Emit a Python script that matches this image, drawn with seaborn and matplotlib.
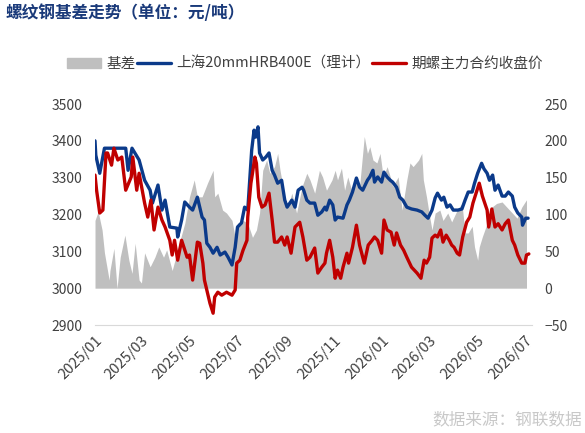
import pandas as pd
import seaborn as sns
import matplotlib
matplotlib.use('Agg')
import matplotlib.pyplot as plt
import matplotlib.dates as mdates
from matplotlib.patches import Patch
from matplotlib.lines import Line2D

# 上海20mmHRB400E（理计）
spot_dates = ['2025-01-01', '2025-01-02', '2025-01-07', '2025-01-13', '2025-02-09', '2025-02-12', '2025-02-17',
              '2025-02-26', '2025-03-05', '2025-03-12', '2025-03-15', '2025-03-22', '2025-03-27', '2025-03-31',
              '2025-04-06', '2025-04-15', '2025-04-16', '2025-04-21', '2025-04-25', '2025-05-01', '2025-05-05',
              '2025-05-11', '2025-05-17', '2025-05-20', '2025-05-23', '2025-05-27', '2025-05-31', '2025-06-05',
              '2025-06-09', '2025-06-15', '2025-06-19', '2025-06-24', '2025-06-28', '2025-07-01', '2025-07-06',
              '2025-07-10', '2025-07-14', '2025-07-19', '2025-07-22', '2025-07-24', '2025-07-27', '2025-07-29',
              '2025-08-02', '2025-08-06', '2025-08-10', '2025-08-14', '2025-08-17', '2025-08-21', '2025-08-26',
              '2025-08-30', '2025-09-02', '2025-09-08', '2025-09-12', '2025-09-16', '2025-09-21', '2025-09-23',
              '2025-09-27', '2025-10-01', '2025-10-07', '2025-10-11', '2025-10-16', '2025-10-20', '2025-10-22',
              '2025-10-26', '2025-10-30', '2025-11-02', '2025-11-05', '2025-11-12', '2025-11-17', '2025-11-20',
              '2025-11-24', '2025-11-29', '2025-12-03', '2025-12-07', '2025-12-13', '2025-12-16', '2025-12-20',
              '2025-12-22', '2025-12-26', '2025-12-31', '2026-01-03', '2026-01-07', '2026-01-11', '2026-01-14',
              '2026-01-19', '2026-01-23', '2026-01-27', '2026-02-01', '2026-02-07', '2026-02-14', '2026-02-20',
              '2026-02-24', '2026-02-28', '2026-03-05', '2026-03-09', '2026-03-12', '2026-03-17', '2026-03-20',
              '2026-03-24', '2026-03-28', '2026-04-01', '2026-04-07', '2026-04-12', '2026-04-16', '2026-04-20',
              '2026-04-25', '2026-04-28', '2026-05-02', '2026-05-07', '2026-05-10', '2026-05-14', '2026-05-17',
              '2026-05-21', '2026-05-24', '2026-05-28', '2026-06-02', '2026-06-06', '2026-06-10', '2026-06-15',
              '2026-06-18', '2026-06-22', '2026-06-27', '2026-06-28', '2026-07-02', '2026-07-05']
spot = [3400, 3361, 3312, 3380, 3380, 3320, 3380,
        3348, 3293, 3266, 3231, 3280, 3212, 3239,
        3166, 3163, 3139, 3185, 3234, 3220, 3212,
        3247, 3193, 3185, 3122, 3111, 3095, 3111,
        3090, 3098, 3084, 3063, 3111, 3166, 3177,
        3220, 3212, 3375, 3429, 3410, 3438, 3367,
        3348, 3356, 3367, 3320, 3307, 3285, 3293,
        3239, 3220, 3239, 3220, 3266, 3274, 3266,
        3239, 3231, 3231, 3198, 3207, 3220, 3212,
        3239, 3226, 3185, 3193, 3190, 3226, 3239,
        3261, 3299, 3274, 3266, 3293, 3302, 3320,
        3288, 3302, 3288, 3315, 3302, 3293, 3288,
        3274, 3247, 3239, 3220, 3215, 3212, 3207,
        3198, 3190, 3212, 3245, 3258, 3239, 3247,
        3220, 3226, 3212, 3212, 3215, 3239, 3261,
        3261, 3285, 3312, 3339, 3324, 3312, 3293,
        3307, 3266, 3280, 3250, 3250, 3261, 3250,
        3220, 3204, 3193, 3171, 3190, 3190]

# 期螺主力合约收盘价
fut_dates = ['2025-01-01', '2025-01-03', '2025-01-07', '2025-01-11', '2025-01-15', '2025-01-17', '2025-01-22',
             '2025-01-25', '2025-01-30', '2025-02-04', '2025-02-09', '2025-02-16', '2025-02-18', '2025-02-23',
             '2025-02-26', '2025-03-05', '2025-03-09', '2025-03-13', '2025-03-17', '2025-03-22', '2025-03-27',
             '2025-03-31', '2025-04-06', '2025-04-09', '2025-04-12', '2025-04-16', '2025-04-21', '2025-04-28',
             '2025-05-01', '2025-05-05', '2025-05-11', '2025-05-14', '2025-05-18', '2025-05-20', '2025-05-23',
             '2025-05-27', '2025-05-31', '2025-06-02', '2025-06-06', '2025-06-11', '2025-06-17', '2025-06-24',
             '2025-06-28', '2025-06-30', '2025-07-04', '2025-07-08', '2025-07-13', '2025-07-14', '2025-07-18',
             '2025-07-20', '2025-07-23', '2025-07-25', '2025-07-28', '2025-08-01', '2025-08-05', '2025-08-10',
             '2025-08-14', '2025-08-17', '2025-08-21', '2025-08-26', '2025-08-30', '2025-09-02', '2025-09-07',
             '2025-09-12', '2025-09-18', '2025-09-22', '2025-09-27', '2025-10-01', '2025-10-07', '2025-10-11',
             '2025-10-16', '2025-10-20', '2025-10-22', '2025-10-26', '2025-10-30', '2025-11-02', '2025-11-05',
             '2025-11-09', '2025-11-12', '2025-11-17', '2025-11-19', '2025-11-24', '2025-11-29', '2025-12-03',
             '2025-12-09', '2025-12-14', '2025-12-19', '2025-12-22', '2025-12-26', '2025-12-31', '2026-01-03',
             '2026-01-07', '2026-01-12', '2026-01-16', '2026-01-19', '2026-01-24', '2026-01-28', '2026-02-01',
             '2026-02-07', '2026-02-14', '2026-02-19', '2026-02-23', '2026-02-26', '2026-03-02', '2026-03-05',
             '2026-03-09', '2026-03-12', '2026-03-16', '2026-03-19', '2026-03-23', '2026-03-27', '2026-03-30',
             '2026-04-02', '2026-04-06', '2026-04-09', '2026-04-13', '2026-04-18', '2026-04-22', '2026-04-26',
             '2026-04-30', '2026-05-04', '2026-05-08', '2026-05-14', '2026-05-16', '2026-05-20', '2026-05-24',
             '2026-05-28', '2026-06-02', '2026-06-06', '2026-06-10', '2026-06-15', '2026-06-18', '2026-06-22',
             '2026-06-27', '2026-07-01', '2026-07-03', '2026-07-06']
fut = [3307, 3266, 3204, 3212, 3367, 3367, 3334,
       3380, 3348, 3356, 3266, 3302, 3356, 3266,
       3312, 3231, 3193, 3239, 3158, 3220, 3185,
       3166, 3130, 3090, 3130, 3076, 3130, 3084,
       3090, 3022, 3125, 3122, 3068, 3022, 2995,
       2959, 2932, 2976, 2989, 2981, 2989, 2981,
       2995, 3068, 3076, 3103, 3130, 3193, 3285,
       3312, 3356, 3339, 3247, 3220, 3226, 3258,
       3185, 3125, 3125, 3139, 3117, 3139, 3095,
       3166, 3179, 3139, 3076, 3084, 3109, 3041,
       3057, 3068, 3095, 3130, 3084, 3027, 3049,
       3027, 3057, 3095, 3068, 3111, 3171, 3117,
       3068, 3117, 3130, 3139, 3130, 3095, 3185,
       3158, 3152, 3117, 3150, 3117, 3103, 3084,
       3057, 3041, 3027, 3076, 3068, 3084, 3136,
       3144, 3139, 3158, 3125, 3144, 3130, 3117,
       3111, 3095, 3090, 3139, 3179, 3193, 3231,
       3258, 3285, 3250, 3212, 3166, 3215, 3166,
       3175, 3158, 3175, 3185, 3130, 3117, 3090,
       3068, 3068, 3090, 3093]

# 基差
basis_dates = ['2025-01-01', '2025-01-05', '2025-01-10', '2025-01-13', '2025-01-19', '2025-01-20', '2025-01-25',
               '2025-01-29', '2025-02-02', '2025-02-08', '2025-02-13', '2025-02-17', '2025-02-21', '2025-02-26',
               '2025-03-01', '2025-03-05', '2025-03-12', '2025-03-18', '2025-03-23', '2025-03-29', '2025-04-02',
               '2025-04-09', '2025-04-15', '2025-04-18', '2025-04-25', '2025-05-01', '2025-05-07', '2025-05-11',
               '2025-05-17', '2025-05-24', '2025-05-31',
               '2025-06-02', '2025-06-06', '2025-06-12', '2025-06-17', '2025-06-24', '2025-06-28', '2025-07-01',
               '2025-07-08', '2025-07-14', '2025-07-20', '2025-07-25', '2025-07-29', '2025-08-02', '2025-08-07',
               '2025-08-11', '2025-08-17', '2025-08-21', '2025-08-24', '2025-08-30', '2025-09-03', '2025-09-08',
               '2025-09-14', '2025-09-21', '2025-09-27', '2025-10-01', '2025-10-07', '2025-10-13', '2025-10-17',
               '2025-10-22', '2025-10-29', '2025-11-02', '2025-11-05', '2025-11-10', '2025-11-14', '2025-11-18',
               '2025-11-23', '2025-11-27', '2025-12-03', '2025-12-09', '2025-12-13', '2025-12-16', '2025-12-20',
               '2025-12-25', '2025-12-29', '2026-01-02', '2026-01-07', '2026-01-11', '2026-01-14', '2026-01-21',
               '2026-01-26', '2026-02-01', '2026-02-05', '2026-02-09', '2026-02-16', '2026-02-20', '2026-02-22',
               '2026-02-26', '2026-03-02', '2026-03-05', '2026-03-09', '2026-03-15', '2026-03-19', '2026-03-25',
               '2026-03-30', '2026-04-06', '2026-04-12', '2026-04-16', '2026-04-20', '2026-04-25', '2026-04-28',
               '2026-05-02', '2026-05-04', '2026-05-08', '2026-05-14', '2026-05-20', '2026-05-26', '2026-06-02',
               '2026-06-08', '2026-06-15', '2026-06-21', '2026-06-27', '2026-07-03']
basis = [92, 104, 79, 48, 11, 24, 54,
         0, 42, 72, 38, 20, 61, 11,
         7, 48, 29, 42, 56, 42, 52,
         24, 48, 61, 88, 124, 147, 124,
         124, 143, 160,
         124, 129, 106, 102, 92, 69, 88,
         92, 88, 69, 79, 102, 160, 174,
         156, 165, 183, 160, 124, 111, 129,
         102, 138, 156, 147, 129, 160, 151,
         133, 147, 160, 147, 163, 133, 151,
         133, 151, 138, 206, 183, 192, 174,
         170, 183, 151, 165, 151, 138, 151,
         106, 147, 170, 165, 174, 183, 147,
         124, 97, 79, 102, 106, 92, 102,
         90, 106, 115, 75, 75, 84, 56,
         38, 56, 70, 88, 110, 115, 117,
         110, 102, 95, 110, 120]

sns.set_style('white')
plt.rcParams['font.family'] = ['Noto Sans CJK SC', 'DejaVu Sans']

fig = plt.figure(figsize=(5.85, 4.33), dpi=100)
ax = fig.add_axes([0.1624, 0.2494, 0.747, 0.5104])
ax2 = ax.twinx()

# 基差面积（右轴），价格线（左轴）
bd = pd.to_datetime(basis_dates)
ax.fill_between(bd, 0, basis, color='#BFBFBF', lw=0)
sns.lineplot(x=pd.to_datetime(spot_dates), y=spot, ax=ax2, color='#0B3A8A', lw=2.4)
sns.lineplot(x=pd.to_datetime(fut_dates), y=fut, ax=ax2, color='#C00000', lw=2.4)

ax.set_ylim(-50, 250)
ax2.set_ylim(2900, 3500)
ax.set_yticks(range(-50, 251, 50))
ax2.set_yticks(range(2900, 3501, 100))
ax.set_xlim(pd.Timestamp('2025-01-01'), pd.Timestamp('2026-07-10'))

ax.yaxis.tick_right()
ax2.yaxis.tick_left()
ax.tick_params(axis='y', length=0, pad=9, labelsize=10, labelcolor='#404040')
ax2.tick_params(axis='y', length=0, pad=9, labelsize=10, labelcolor='#404040')

ax.xaxis.set_major_locator(mdates.MonthLocator(bymonth=[1, 3, 5, 7, 9, 11]))
ax.xaxis.set_major_formatter(mdates.DateFormatter('%Y/%m'))
ax.tick_params(axis='x', length=5, color='#D9D9D9', width=1, labelsize=10.5, labelcolor='#404040', pad=1)
for lab in ax.get_xticklabels():
    lab.set_rotation(45)
    lab.set_ha('right')
    lab.set_rotation_mode('anchor')

for a in (ax, ax2):
    for s in ['top', 'left', 'right']:
        a.spines[s].set_visible(False)
    a.set_xlabel('')
    a.set_ylabel('')
ax2.spines['bottom'].set_visible(False)
ax.spines['bottom'].set_color('#D9D9D9')

handles = [Patch(color='#BFBFBF'),
           Line2D([0], [0], color='#0B3A8A', lw=2.4),
           Line2D([0], [0], color='#C00000', lw=2.4)]
labels = ['基差', '上海20mmHRB400E（理计）', '期螺主力合约收盘价']
fig.legend(handles, labels, loc='center left', bbox_to_anchor=(67 / 585, 1 - 64 / 433), ncol=3,
           frameon=False, fontsize=10.5, handlelength=2.3, handletextpad=0.4, columnspacing=0.1,
           borderpad=0, borderaxespad=0, labelcolor='#404040')

fig.text(5 / 585, 1 - 13 / 433, '螺纹钢基差走势（单位：元/吨）', fontsize=12, fontweight='bold',
         color='#1A3A7A', va='center', ha='left')
fig.text(582 / 585, 1 - 420 / 433, '数据来源：钢联数据', fontsize=12, color='#C8C8C8',
         va='center', ha='right')

fig.savefig('out.png', dpi=100)
